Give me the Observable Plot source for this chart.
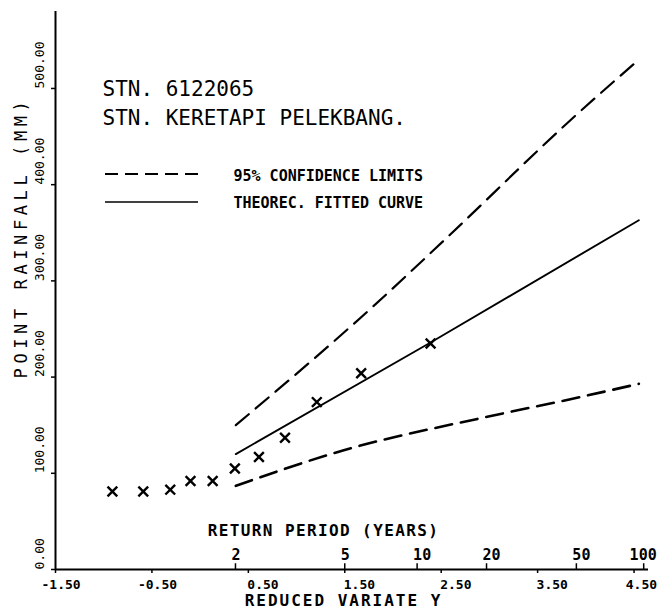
<!DOCTYPE html>
<html>
<head>
<meta charset="utf-8">
<script src="https://cdn.jsdelivr.net/npm/d3@7"></script>
<script src="https://cdn.jsdelivr.net/npm/@observablehq/plot@0.6"></script>
<style>
  html, body { margin: 0; padding: 0; background: #fff; }
  svg { display: block; }
  .ls-y text { letter-spacing: 4.6px; }
  .ls-rp text { letter-spacing: 1.4px; }
  .ls-rv text { letter-spacing: 2px; }
</style>
</head>
<body>
<div id="chart"></div>
<script>
// ---- data ----
const xTickVals = [-1.5, -0.5, 0.5, 1.5, 2.5, 3.5, 4.5];
const xTickLabels = ["-1.50", "-0.50", "0.50", "1.50", "2.50", "3.50", "4.50"];
const yTickVals = [0, 100, 200, 300, 400, 500];
const yTickLabels = ["0.00", "100.00", "200.00", "300.00", "400.00", "500.00"];
const returnPeriods = [2, 5, 10, 20, 50, 100];

// observed annual maxima (reduced variate, rainfall mm)
const obsVariate = [-0.91, -0.59, -0.31, -0.10, 0.13, 0.36, 0.61, 0.88, 1.21, 1.67, 2.39];
const obsRain    = [81, 81, 83, 92, 92, 105, 117, 137, 174, 204, 235];

// theoretical fitted curve
const fitVariate = [0.37, 2.39, 4.55];
const fitRain    = [120, 236, 363];

// 95% confidence limits
const upperVariate = [0.37, 1.80, 2.56, 3.84, 4.55];
const upperRain    = [150, 274, 345, 467, 530];
const lowerVariate = [0.37, 1.49, 2.99, 3.84, 4.55];
const lowerRain    = [87, 124, 159, 177, 193];

// ---- build tables ----
const obs = obsVariate.map((v, i) => ({x: v, y: obsRain[i]}));
const fit = fitVariate.map((v, i) => ({x: v, y: fitRain[i]}));
const upper = upperVariate.map((v, i) => ({x: v, y: upperRain[i]}));
const lower = lowerVariate.map((v, i) => ({x: v, y: lowerRain[i]}));
const gumbel = T => -Math.log(-Math.log(1 - 1 / T));
const rp = returnPeriods.map(T => ({x: gumbel(T), label: String(T)}));
const xt = xTickVals.map((v, i) => ({x: v, label: xTickLabels[i]}));
const yt = yTickVals.map((v, i) => ({y: v, label: yTickLabels[i]}));

const FONT = "DejaVu Sans Mono";

const plot = Plot.plot({
  width: 658,
  height: 615,
  marginLeft: 55,
  marginRight: 10,
  marginTop: 11,
  marginBottom: 46,
  style: {fontFamily: FONT, background: "#fff", color: "#000"},
  x: {domain: [-1.5, 4.65], axis: null},
  y: {domain: [0, 580], axis: null},
  marks: [
    // axes lines
    Plot.ruleX([-1.5], {stroke: "#000", strokeWidth: 2}),
    Plot.ruleY([0], {stroke: "#000", strokeWidth: 2}),
    Plot.axisY({ticks: yTickVals, tickSize: 4, tickFormat: () => "", label: null, strokeWidth: 1.5}),
    Plot.axisX({ticks: xTickVals, tickSize: 4, tickFormat: () => "", label: null, strokeWidth: 1.5}),
    Plot.ruleX(rp, {x: "x", y1: 0, y2: 6, stroke: "#000", strokeWidth: 1.5}),

    // y tick labels (rotated)
    Plot.text(yt, {x: -1.5, y: "y", text: "label", rotate: -90, textAnchor: "start",
      dx: -16, fontSize: 13, fill: "#000"}),
    // x tick labels
    Plot.text(xt.filter(d => d.x < 0), {x: "x", y: 0, text: "label", textAnchor: "start",
      dx: -14, dy: 15, fontSize: 13, fontWeight: "bold", fill: "#000"}),
    Plot.text(xt.filter(d => d.x >= 0 && d.x < 4), {x: "x", y: 0, text: "label", textAnchor: "start",
      dx: -1, dy: 15, fontSize: 13, fontWeight: "bold", fill: "#000"}),
    Plot.text(xt.filter(d => d.x >= 4), {x: "x", y: 0, text: "label", textAnchor: "end",
      dx: 23, dy: 15, fontSize: 13, fontWeight: "bold", fill: "#000"}),
    // return period labels
    Plot.text(rp.filter(d => d.x < 4.5), {x: "x", y: 0, text: "label", textAnchor: "start",
      dx: -4, dy: -14, fontSize: 15, fontWeight: "bold", fill: "#000"}),
    Plot.text(rp.filter(d => d.x >= 4.5), {x: "x", y: 0, text: "label", textAnchor: "end",
      dx: 13, dy: -14, fontSize: 15, fontWeight: "bold", fill: "#000"}),

    // axis titles
    Plot.text(["RETURN PERIOD (YEARS)"], {frameAnchor: "bottom-left", dx: 268, dy: -34,
      textAnchor: "middle", fontSize: 16, fontWeight: "bold", fill: "#000", className: "ls-rp"}),
    Plot.text(["REDUCED VARIATE Y"], {frameAnchor: "bottom-left", dx: 288, dy: 36,
      textAnchor: "middle", fontSize: 16, fontWeight: "bold", fill: "#000", className: "ls-rv"}),
    Plot.text(["POINT RAINFALL (MM)"], {frameAnchor: "left", dx: -34, dy: -53, rotate: -90,
      textAnchor: "middle", fontSize: 17, fill: "#000", className: "ls-y"}),

    // station titles
    Plot.text(["STN. 6122065"], {frameAnchor: "top-left", dx: 47, dy: 70, textAnchor: "start",
      fontSize: 21, fill: "#000"}),
    Plot.text(["STN. KERETAPI PELEKBANG."], {frameAnchor: "top-left", dx: 47, dy: 99, textAnchor: "start",
      fontSize: 21, fill: "#000"}),

    // legend labels
    Plot.text(["95% CONFIDENCE LIMITS"], {frameAnchor: "top-left", dx: 178, dy: 159, textAnchor: "start",
      fontSize: 15, fontWeight: "bold", fill: "#000"}),
    Plot.text(["THEOREC. FITTED CURVE"], {frameAnchor: "top-left", dx: 178, dy: 186, textAnchor: "start",
      fontSize: 15, fontWeight: "bold", fill: "#000"}),

    // curves
    Plot.line(upper, {x: "x", y: "y", curve: "monotone-x", stroke: "#000", strokeWidth: 2.2, strokeDasharray: "17,9"}),
    Plot.line(lower, {x: "x", y: "y", curve: "monotone-x", stroke: "#000", strokeWidth: 2.6, strokeDasharray: "17,9"}),
    Plot.line(fit, {x: "x", y: "y", stroke: "#000", strokeWidth: 1.9}),

    // observed points
    Plot.dot(obs, {x: "x", y: "y", symbol: "times", r: 4.5, stroke: "#000", strokeWidth: 2.4})
  ]
});

// legend line samples
const svg = d3.select(plot);
svg.append("line").attr("x1", 105).attr("x2", 198).attr("y1", 174).attr("y2", 174)
  .attr("stroke", "#000").attr("stroke-width", 1.8).attr("stroke-dasharray", "13,7");
svg.append("line").attr("x1", 105).attr("x2", 198).attr("y1", 202).attr("y2", 202)
  .attr("stroke", "#000").attr("stroke-width", 1.6);

document.getElementById("chart").appendChild(plot);
</script>
</body>
</html>
